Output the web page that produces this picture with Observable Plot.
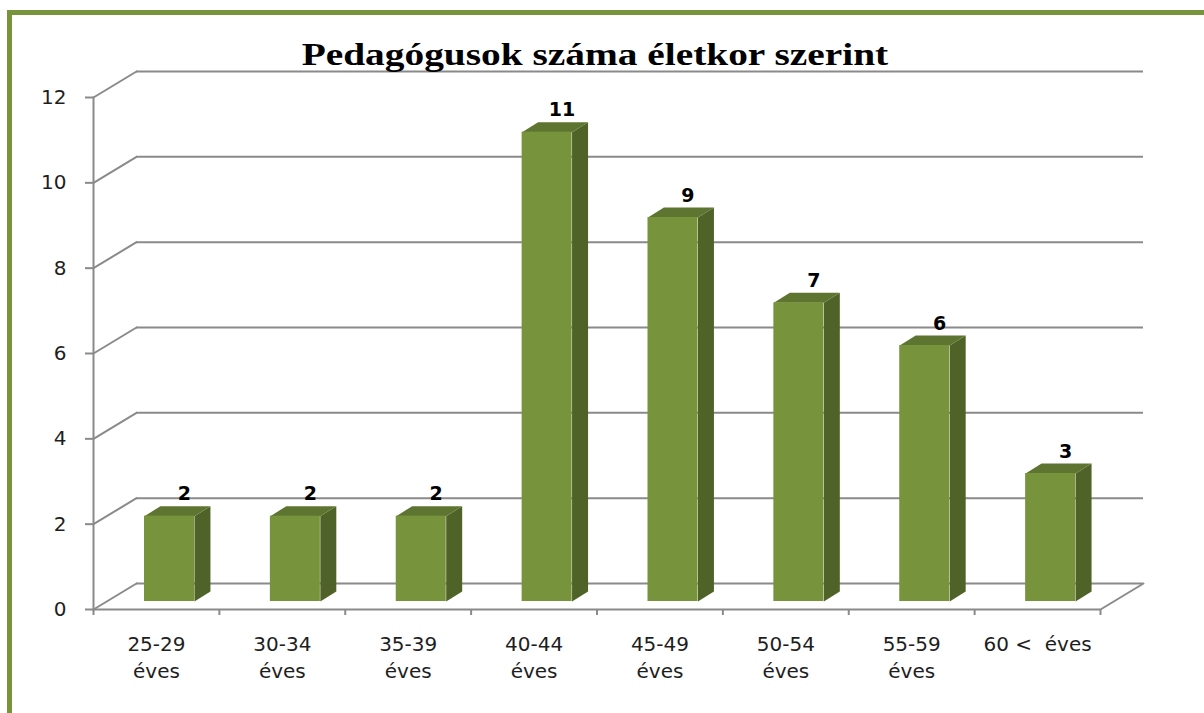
<!DOCTYPE html>
<html>
<head>
<meta charset="utf-8">
<script src="https://cdn.jsdelivr.net/npm/d3@7"></script>
<script src="https://cdn.jsdelivr.net/npm/@observablehq/plot@0.6"></script>
<style>
  body { margin: 0; background: #fff; }
  #wrap { position: relative; width: 1204px; height: 713px; overflow: hidden; background: #fff; }
  #border { position: absolute; left: 7px; top: 10px; width: 1400px; height: 900px;
            border-left: 5px solid #77933C; border-top: 5px solid #77933C; }
  #title { position: absolute; left: 0; top: 39px; width: 1190px; text-align: center;
           font-family: "Liberation Serif", "Times New Roman", serif; font-weight: bold;
           font-size: 31px; line-height: 31px; color: #000; }
  #title span { display: inline-block; transform: scaleX(1.27); transform-origin: center; }
  #chart { position: absolute; left: 0; top: 0; }
</style>
</head>
<body>
<div id="wrap">
  <div id="border"></div>
  <div id="chart"></div>
  <div id="title"><span>Pedagógusok száma életkor szerint</span></div>
</div>
<script>
// ---- data ----
const categories = ["25-29\néves", "30-34\néves", "35-39\néves", "40-44\néves",
                    "45-49\néves", "50-54\néves", "55-59\néves", "60 <\u00A0 éves"];
const values = [2, 2, 2, 11, 9, 7, 6, 3];
const yTicks = [0, 2, 4, 6, 8, 10, 12];

const data = categories.map((c, i) => ({cat: c, value: values[i]}));

// ---- layout ----
const W = 1204, H = 713;
const mL = 93, mR = 104, mT = 97, mB = 104;
const bw = (W - mL - mR) / categories.length;
const unit = (H - mT - mB) / 12;
const depthLen = Math.hypot(43, 26);
const depthAngle = Math.atan2(43, 26) * 180 / Math.PI;

const gridColor = "#8A8A8A";
const textColor = "#1E1E1E";
const frontColor = "#77933C";
const sideColor = "#4F6228";
const topColor = "#5E7531";

const seg = {draw(ctx, l) { ctx.moveTo(0, 0); ctx.lineTo(0, -l); }};
const sideShape = {draw(ctx, l) {
  ctx.moveTo(38, 0); ctx.lineTo(54, -10); ctx.lineTo(54, -l - 10); ctx.lineTo(38, -l); ctx.closePath();
}};
const topShape = {draw(ctx, l) {
  ctx.moveTo(-12, -l); ctx.lineTo(38, -l); ctx.lineTo(54, -l - 10); ctx.lineTo(4, -l - 10); ctx.closePath();
}};

const chart = Plot.plot({
  width: W, height: H,
  marginLeft: mL, marginRight: mR, marginTop: mT, marginBottom: mB,
  style: {fontFamily: "DejaVu Sans", background: "transparent", overflow: "visible"},
  x: {domain: categories, padding: 0, round: false},
  y: {domain: [0, 12]},
  length: {domain: [0, 12], range: [0, 12 * unit]},
  marks: [
    // back wall grid lines
    Plot.ruleY(yTicks, {dx: 43, dy: -26, stroke: gridColor, strokeWidth: 2}),
    // left side diagonals
    Plot.vector(yTicks, {y: d => d, frameAnchor: "left", length: depthLen, rotate: depthAngle,
      anchor: "start", shape: seg, stroke: gridColor, strokeWidth: 2}),
    // right floor diagonal
    Plot.vector([0], {y: d => d, frameAnchor: "right", length: depthLen, rotate: depthAngle,
      anchor: "start", shape: seg, stroke: gridColor, strokeWidth: 2}),
    // front axis lines
    Plot.frame({anchor: "left", stroke: gridColor, strokeWidth: 2}),
    Plot.ruleY([0], {stroke: gridColor, strokeWidth: 2}),
    // category boundary ticks
    Plot.ruleX(data, {x: "cat", dx: -bw / 2, insetTop: H - mT - mB, insetBottom: -6, stroke: gridColor, strokeWidth: 2}),
    Plot.ruleX([categories[categories.length - 1]], {dx: bw / 2, insetTop: H - mT - mB, insetBottom: -6, stroke: gridColor, strokeWidth: 2}),
    // 3D bars
    Plot.vector(data, {x: "cat", y: () => 0, length: "value", anchor: "start", shape: sideShape,
      fill: sideColor, stroke: "none", dy: -8}),
    Plot.vector(data, {x: "cat", y: () => 0, length: "value", anchor: "start", shape: topShape,
      fill: topColor, stroke: "none", dy: -8}),
    Plot.barY(data, {x: "cat", y: "value", fill: frontColor, insetLeft: 51, insetRight: bw - 101, dy: -8}),
    // value labels
    Plot.text(data, {x: "cat", y: "value", text: d => String(d.value), dx: 28, dy: -30,
      fontSize: 19, fontWeight: "bold", fontFamily: "DejaVu Sans", fill: "#000"}),
    // axes
    Plot.axisY(yTicks, {tickSize: 8, tickPadding: 19, stroke: gridColor, strokeWidth: 2,
      fontSize: 20, fontFamily: "DejaVu Sans", fill: textColor, label: null}),
    Plot.axisX({tickSize: 0, tickPadding: 22, fontSize: 20, fontFamily: "DejaVu Sans",
      lineHeight: 1.35, fill: textColor, label: null})
  ]
});
document.getElementById("chart").appendChild(chart);
</script>
</body>
</html>
